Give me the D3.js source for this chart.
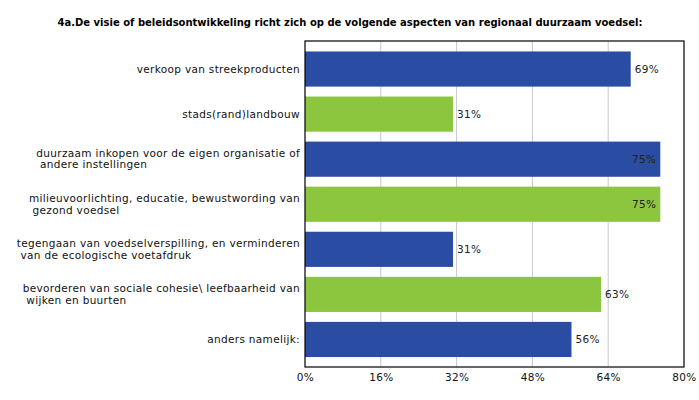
<!DOCTYPE html>
<html><head><meta charset="utf-8">
<script src="https://cdn.jsdelivr.net/npm/d3@7"></script>
<style>body{margin:0;background:#fff}svg{display:block}</style>
</head><body>
<script>
const title = "4a.De visie of beleidsontwikkeling richt zich op de volgende aspecten van regionaal duurzaam voedsel:";
const categories = [
  ["verkoop van streekproducten"],
  ["stads(rand)landbouw"],
  ["duurzaam inkopen voor de eigen organisatie of", " andere instellingen"],
  ["milieuvoorlichting, educatie, bewustwording van", " gezond voedsel"],
  ["tegengaan van voedselverspilling, en verminderen", " van de ecologische voetafdruk"],
  ["bevorderen van sociale cohesie\\ leefbaarheid van", " wijken en buurten"],
  ["anders namelijk:"]
];
const values = [68.75, 31.25, 75, 75, 31.25, 62.5, 56.25];
const valueLabels = ["69%", "31%", "75%", "75%", "31%", "63%", "56%"];
const ticks = [0, 16, 32, 48, 64, 80];
const colors = ["#2a4ca2", "#8cc63e"];

const W = 699, H = 400;
const svg = d3.select("body").append("svg").attr("width", W).attr("height", H);
const font = "'DejaVu Sans', Verdana, sans-serif";
const ls = "0.33px";

const x = d3.scaleLinear().domain([0, 80]).range([305, 684]);
const y = d3.scaleBand().domain(d3.range(categories.length)).range([46.5, 362]).paddingInner(0.22).paddingOuter(0.11);

const frameTop = 41, frameBottom = 367;

svg.append("text").attr("x", 350).attr("y", 26).attr("text-anchor", "middle")
  .attr("font-family", font).attr("font-weight", "bold").attr("font-size", 10)
  .attr("fill", "#000").text(title);

// grid
svg.append("g").selectAll("line").data(ticks.slice(1, -1)).join("line")
  .attr("x1", d => x(d)).attr("x2", d => x(d)).attr("y1", frameTop).attr("y2", frameBottom)
  .attr("stroke", "#c8c8c8").attr("stroke-width", 1);

// bars
svg.append("g").selectAll("rect").data(values).join("rect")
  .attr("x", x(0)).attr("y", (d, i) => y(i)).attr("width", d => x(d) - x(0))
  .attr("height", y.bandwidth()).attr("fill", (d, i) => colors[i % 2]);

// frame
svg.append("rect").attr("x", x(0)).attr("y", frameTop).attr("width", x(80) - x(0))
  .attr("height", frameBottom - frameTop).attr("fill", "none").attr("stroke", "#000").attr("stroke-width", 1.2);

// value labels
svg.append("g").selectAll("text").data(values).join("text")
  .attr("x", d => d >= 72 ? x(d) - 4 : x(d) + 4)
  .attr("text-anchor", d => d >= 72 ? "end" : "start")
  .attr("y", (d, i) => y(i) + y.bandwidth() / 2 + 4)
  .attr("font-family", font).attr("font-size", 10.5).attr("fill", "#222")
  .style("letter-spacing", ls)
  .text((d, i) => valueLabels[i]);

// category labels
categories.forEach((lines, i) => {
  const g = svg.append("g");
  const n = lines.length;
  const cy = y(i) + y.bandwidth() / 2;
  const texts = lines.map((l, j) => g.append("text")
    .attr("font-family", font).attr("font-size", 10.5).attr("fill", "#111")
    .attr("xml:space", "preserve").style("white-space", "pre").style("letter-spacing", ls)
    .attr("y", cy + (j - (n - 1) / 2) * 11.5 + 3.5).text(l));
  const maxW = d3.max(texts, t => t.node().getBoundingClientRect().width);
  texts.forEach(t => t.attr("x", 300 - maxW));
});

// x axis labels
const axis = d3.axisBottom(x).tickValues(ticks).tickFormat(d => d + "%").tickSize(0).tickPadding(7);
const ag = svg.append("g").attr("transform", `translate(0,${frameBottom})`).call(axis);
ag.select(".domain").remove();
ag.selectAll("text").attr("font-family", font).attr("font-size", 10.5).attr("fill", "#111").style("letter-spacing", ls);
</script>
</body></html>
